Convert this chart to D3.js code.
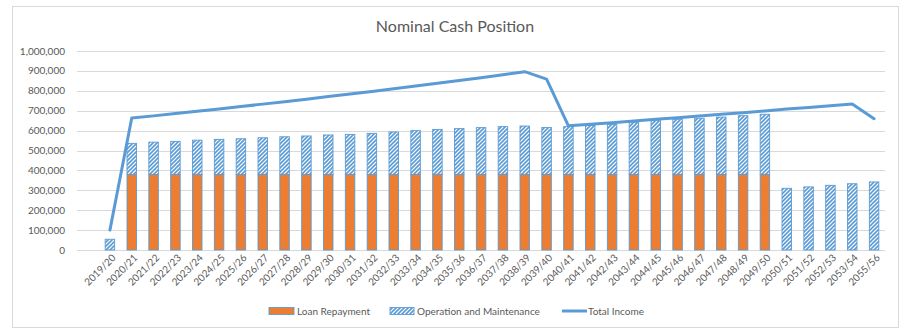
<!DOCTYPE html>
<html>
<head>
<meta charset="utf-8">
<script src="https://cdn.jsdelivr.net/npm/d3@7"></script>
<style>
  html, body { margin: 0; padding: 0; background: #fff; }
  svg { display: block; font-family: Lato, "Open Sans", sans-serif; }
</style>
</head>
<body>
<div id="chart"></div>
<script>
const title = "Nominal Cash Position";
const categories = ["2019/20","2020/21","2021/22","2022/23","2023/24","2024/25","2025/26","2026/27","2027/28","2028/29","2029/30","2030/31","2031/32","2032/33","2033/34","2034/35","2035/36","2036/37","2037/38","2038/39","2039/40","2040/41","2041/42","2042/43","2043/44","2044/45","2045/46","2046/47","2047/48","2048/49","2049/50","2050/51","2051/52","2052/53","2053/54","2055/56"];
const loanRepayment = [0,380000,380000,380000,380000,380000,380000,380000,380000,380000,380000,380000,380000,380000,380000,380000,380000,380000,380000,380000,380000,380000,380000,380000,380000,380000,380000,380000,380000,380000,380000,0,0,0,0,0];
const operationMaintenance = [54000,156000,162000,166000,172000,176000,179000,184000,189000,193000,198000,201000,206000,213000,220000,226000,230000,235000,240000,243000,236000,240000,246000,251000,260000,270000,277000,282000,288000,295000,302000,310000,317000,325000,333000,342000];
const totalIncome = [100000,663000,674000,686000,697000,709000,721000,733000,745000,758000,771000,784000,797000,810000,824000,838000,852000,866000,881000,896000,859000,624000,632000,640000,648000,657000,665000,673000,682000,690000,699000,708000,716000,725000,734000,660000];
const yTicks = [0,100000,200000,300000,400000,500000,600000,700000,800000,900000,1000000];
const seriesNames = ["Loan Repayment","Operation and Maintenance","Total Income"];

const W = 909, H = 334;
const plotLeft = 77, plotRight = 885, plotTop = 51, plotBottom = 250;
const orange = "#ED7D31", blue = "#5B9BD5", grid = "#D9D9D9", textC = "#595959";

const svg = d3.select("#chart").append("svg").attr("width", W).attr("height", H);

const defs = svg.append("defs");
const pat = defs.append("pattern").attr("id","hatch").attr("patternUnits","userSpaceOnUse")
  .attr("width",4).attr("height",4);
pat.append("rect").attr("width",4).attr("height",4).attr("fill","#fff");
pat.append("path").attr("d","M-1,1 L1,-1 M0,4 L4,0 M3,5 L5,3")
  .attr("stroke",blue).attr("stroke-width",1.6);

// chart border
svg.append("rect").attr("x",12.5).attr("y",6.5).attr("width",886).attr("height",321)
  .attr("fill","#fff").attr("stroke",grid).attr("stroke-width",1);

// title
svg.append("text").attr("x",455).attr("y",32).attr("text-anchor","middle")
  .attr("font-size",16).attr("fill",textC).text(title);

const y = d3.scaleLinear().domain([0,1000000]).range([plotBottom, plotTop]);
const x = d3.scaleBand().domain(categories).range([99, plotRight]).paddingInner(0.565).paddingOuter(0.2825);

// gridlines
svg.append("g").selectAll("line").data(yTicks).join("line")
  .attr("x1",plotLeft).attr("x2",plotRight)
  .attr("y1",d=>Math.round(y(d))+0.5).attr("y2",d=>Math.round(y(d))+0.5)
  .attr("stroke",grid).attr("stroke-width",1);

// y labels
const fmt = d3.format(",");
svg.append("g").selectAll("text").data(yTicks).join("text")
  .attr("x",65).attr("y",d=>y(d)).attr("dy","0.35em").attr("text-anchor","end")
  .attr("font-size",10).attr("fill",textC).text(d=>fmt(d));

// bars
const bw = x.bandwidth();
const bars = svg.append("g");
categories.forEach((c,i)=>{
  const l = loanRepayment[i], o = operationMaintenance[i];
  if (l > 0) {
    bars.append("rect").attr("x",x(c)).attr("width",bw)
      .attr("y",y(l)).attr("height",y(0)-y(l))
      .attr("fill",orange).attr("stroke",blue).attr("stroke-width",0.9);
  }
  bars.append("rect").attr("x",x(c)).attr("width",bw)
    .attr("y",y(l+o)).attr("height",y(l)-y(l+o))
    .attr("fill","url(#hatch)").attr("stroke",blue).attr("stroke-width",0.9);
});

// line
const line = d3.line().x((d,i)=>x(categories[i])+bw/2).y(d=>y(d));
svg.append("path").datum(totalIncome).attr("d",line)
  .attr("fill","none").attr("stroke",blue).attr("stroke-width",3)
  .attr("stroke-linejoin","round").attr("stroke-linecap","round");

// x labels
svg.append("g").selectAll("text").data(categories).join("text")
  .attr("transform",d=>`translate(${x(d)+bw/2+4},${plotBottom+6}) rotate(-45)`)
  .attr("text-anchor","end").attr("dy","0.35em")
  .attr("font-size",10).attr("fill",textC).text(d=>d);

// legend
const lg = svg.append("g").attr("font-size",10).attr("fill",textC);
lg.append("rect").attr("x",269).attr("y",307.5).attr("width",25).attr("height",7)
  .attr("fill",orange).attr("stroke",blue).attr("stroke-width",0.9);
lg.append("text").attr("x",297).attr("y",311).attr("dy","0.35em").text(seriesNames[0]);
lg.append("rect").attr("x",390).attr("y",307.5).attr("width",24).attr("height",7)
  .attr("fill","url(#hatch)").attr("stroke",blue).attr("stroke-width",0.9);
lg.append("text").attr("x",417).attr("y",311).attr("dy","0.35em").text(seriesNames[1]);
lg.append("line").attr("x1",562).attr("x2",587).attr("y1",311).attr("y2",311)
  .attr("stroke",blue).attr("stroke-width",3);
lg.append("text").attr("x",588).attr("y",311).attr("dy","0.35em").text(seriesNames[2]);
</script>
</body>
</html>
